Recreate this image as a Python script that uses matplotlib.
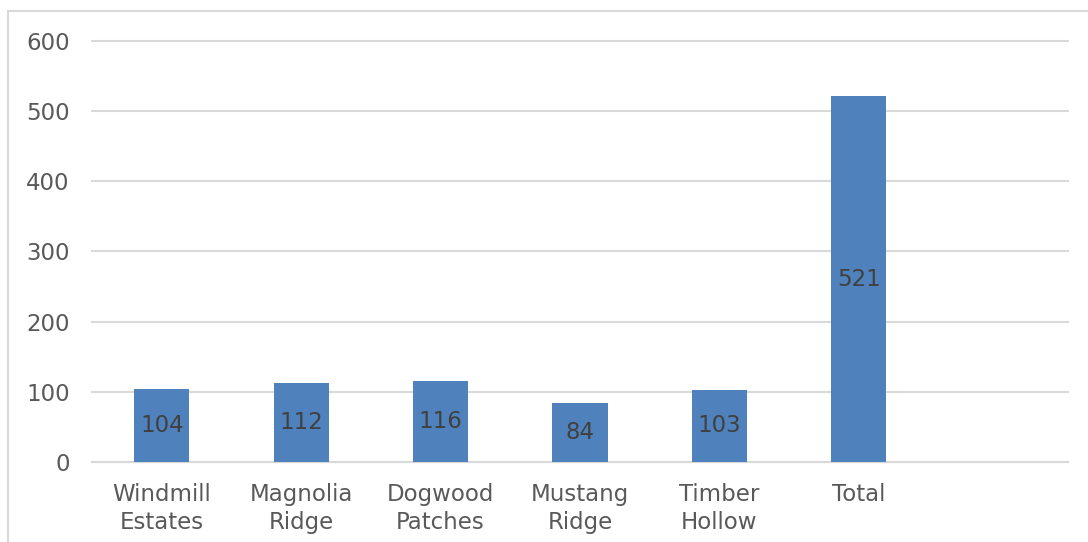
import matplotlib.pyplot as plt
from matplotlib.patches import Rectangle

# Counts per neighborhood, plus the overall total
neighborhoods = ['Windmill\nEstates', 'Magnolia\nRidge', 'Dogwood\nPatches',
                 'Mustang\nRidge', 'Timber\nHollow', 'Total']
counts = [104, 112, 116, 84, 103, 521]

bar_color = '#4F81BD'
grid_color = '#D9D9D9'
tick_color = '#595959'
label_color = '#404040'
fsize = 16.5

fig = plt.figure(figsize=(10.88, 5.42), dpi=100)
ax = fig.add_axes([0.0846, 0.1476, 0.897, 0.7768])

# Outer chart frame (partly cut off on the right and bottom)
fig.patches.append(Rectangle((8 / 1088, -0.05), 1.2, 1 - 11 / 542 + 0.05,
                             transform=fig.transFigure, fill=False,
                             edgecolor=grid_color, linewidth=1.5))

x = list(range(len(counts)))
bars = ax.bar(x, counts, width=0.395, color=bar_color, zorder=3)

# Value labels centred inside each bar
for rect, v in zip(bars, counts):
    ax.text(rect.get_x() + rect.get_width() / 2, v / 2, str(v),
            ha='center', va='center', fontsize=fsize, color=label_color,
            zorder=4)

ax.set_xlim(-0.5, 6.5)
ax.set_ylim(0, 600)
ax.set_yticks(range(0, 601, 100))
ax.set_xticks(x)
ax.set_xticklabels(neighborhoods, linespacing=1.3)

ax.yaxis.grid(True, color=grid_color, linewidth=1.5, zorder=0)
for gl in ax.get_ygridlines():
    gl.set_clip_on(False)
ax.set_axisbelow(True)
for side in ['top', 'right', 'left']:
    ax.spines[side].set_visible(False)
ax.spines['bottom'].set_color(grid_color)
ax.spines['bottom'].set_linewidth(1.5)

ax.tick_params(axis='both', length=0, labelsize=fsize, colors=tick_color)
ax.tick_params(axis='y', pad=16)
ax.tick_params(axis='x', pad=15)

fig.savefig('out.png', dpi=100)
